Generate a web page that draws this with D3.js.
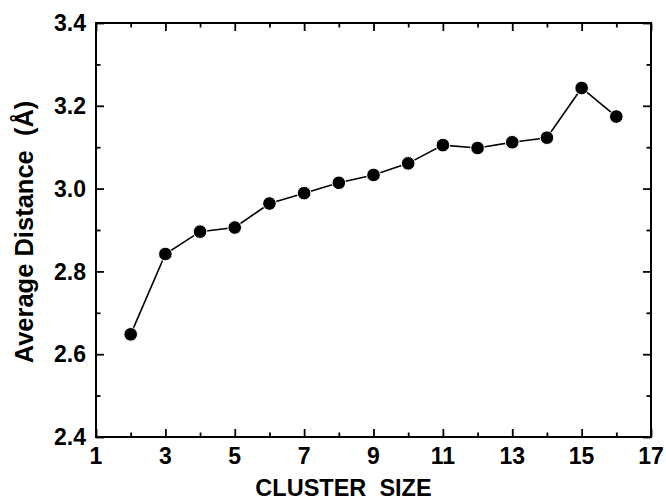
<!DOCTYPE html>
<html>
<head>
<meta charset="utf-8">
<script src="https://cdn.jsdelivr.net/npm/d3@7"></script>
<style>
  body { margin: 0; background: #fff; }
  svg text { font-family: Arial, "Liberation Sans", sans-serif; font-weight: bold; white-space: pre; }
</style>
</head>
<body>
<svg id="chart"></svg>
<script>
const clusterSize = [2, 3, 4, 5, 6, 7, 8, 9, 10, 11, 12, 13, 14, 15, 16];
const avgDistance = [2.648, 2.842, 2.896, 2.906, 2.964, 2.989, 3.014, 3.033, 3.061, 3.105, 3.098, 3.112, 3.123, 3.243, 3.174];
const xMajorTicks = [1, 3, 5, 7, 9, 11, 13, 15, 17];
const xMinorTicks = [2, 4, 6, 8, 10, 12, 14, 16];
const yMajorTicks = [2.4, 2.6, 2.8, 3.0, 3.2, 3.4];
const yMinorTicks = [2.5, 2.7, 2.9, 3.1, 3.3];

const width = 666;
const height = 500;
const margin = { top: 23, right: 15, bottom: 63, left: 96 };

const svg = d3.select("#chart").attr("width", width).attr("height", height);

const x = d3.scaleLinear().domain([1, 17]).range([margin.left, width - margin.right]);
const y = d3.scaleLinear().domain([2.4, 3.4]).range([height - margin.bottom, margin.top]);

const x0 = x.range()[0], x1 = x.range()[1];
const y0 = y.range()[0], y1 = y.range()[1];

// inward ticks on all four sides
const drawTicks = (axisGen, transform) => {
  svg.append("g")
    .attr("transform", transform)
    .call(axisGen)
    .call(g => g.select(".domain").remove())
    .call(g => g.selectAll("line").attr("stroke", "#000").attr("stroke-width", 1.8));
};

const major = 8, minor = 4.5;
drawTicks(d3.axisBottom(x).tickValues(xMajorTicks).tickSize(-major).tickFormat(""), `translate(0,${y0})`);
drawTicks(d3.axisBottom(x).tickValues(xMinorTicks).tickSize(-minor).tickFormat(""), `translate(0,${y0})`);
drawTicks(d3.axisTop(x).tickValues(xMajorTicks).tickSize(-major).tickFormat(""), `translate(0,${y1})`);
drawTicks(d3.axisTop(x).tickValues(xMinorTicks).tickSize(-minor).tickFormat(""), `translate(0,${y1})`);
drawTicks(d3.axisLeft(y).tickValues(yMajorTicks).tickSize(-major).tickFormat(""), `translate(${x0},0)`);
drawTicks(d3.axisLeft(y).tickValues(yMinorTicks).tickSize(-minor).tickFormat(""), `translate(${x0},0)`);
drawTicks(d3.axisRight(y).tickValues(yMajorTicks).tickSize(-major).tickFormat(""), `translate(${x1},0)`);
drawTicks(d3.axisRight(y).tickValues(yMinorTicks).tickSize(-minor).tickFormat(""), `translate(${x1},0)`);

// frame
svg.append("rect")
  .attr("x", x0).attr("y", y1)
  .attr("width", x1 - x0).attr("height", y0 - y1)
  .attr("fill", "none").attr("stroke", "#000").attr("stroke-width", 2);

// tick labels
svg.append("g").selectAll("text").data(xMajorTicks).join("text")
  .attr("x", d => x(d)).attr("y", y0 + 27)
  .attr("text-anchor", "middle").attr("font-size", "23px")
  .text(d => d);

svg.append("g").selectAll("text").data(yMajorTicks).join("text")
  .attr("x", x0 - 10).attr("y", d => y(d)).attr("dy", "0.36em")
  .attr("text-anchor", "end").attr("font-size", "23px")
  .text(d => d3.format(".1f")(d));

// axis titles
svg.append("text")
  .attr("x", (x0 + x1) / 2 - 30).attr("y", 496)
  .attr("text-anchor", "middle").attr("font-size", "23.5px")
  .text("CLUSTER  SIZE");

svg.append("text")
  .attr("transform", `translate(33,${(y0 + y1) / 2 + 2}) rotate(-90)`)
  .attr("text-anchor", "middle").attr("font-size", "25.5px")
  .text("Average Distance  (Å)");

// data line + markers
const line = d3.line().x((d, i) => x(clusterSize[i])).y(d => y(d));

svg.append("path")
  .datum(avgDistance)
  .attr("d", line)
  .attr("fill", "none").attr("stroke", "#000").attr("stroke-width", 1.6);

svg.append("g").selectAll("circle").data(avgDistance).join("circle")
  .attr("cx", (d, i) => x(clusterSize[i]))
  .attr("cy", d => y(d))
  .attr("r", 6.8)
  .attr("fill", "#000")
  .attr("stroke", "#fff").attr("stroke-width", 1);
</script>
</body>
</html>
